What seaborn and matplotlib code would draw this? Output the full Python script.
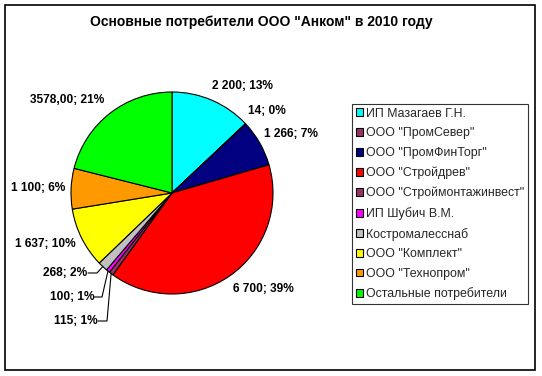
import numpy as np
import matplotlib
matplotlib.use("Agg")
import matplotlib.pyplot as plt
from matplotlib.patches import Rectangle
import seaborn as sns

sns.set_theme(style="white")
plt.rcParams['font.family'] = ['Liberation Sans', 'DejaVu Sans']

title = 'Основные потребители ООО "Анком" в 2010 году'
categories = ['ИП Мазагаев Г.Н.', 'ООО "ПромСевер"', 'ООО "ПромФинТорг"', 'ООО "Стройдрев"',
              'ООО "Строймонтажинвест"', 'ИП Шубич В.М.', 'Костромалесснаб',
              'ООО "Комплект"', 'ООО "Технопром"', 'Остальные потребители']
values = [2200, 14, 1266, 6700, 115, 100, 268, 1637, 1100, 3578]
value_text = ['2 200', '14', '1 266', '6 700', '115', '100', '268', '1 637', '1 100', '3578,00']
colors = ['#00FFFF', '#993366', '#000080', '#FF0000', '#993366', '#FF00FF',
          '#C0C0C0', '#FFFF00', '#FF9900', '#00FF00']

W, H = 542, 376
fig = plt.figure(figsize=(W / 100, H / 100), dpi=100)
fig.patch.set_facecolor('white')
ax = fig.add_axes([0, 0, 1, 1])

cx, cy, r = 172, H - 193, 101
wedges, _ = ax.pie(values, colors=colors, startangle=90, counterclock=False,
                   center=(cx, cy), radius=r, frame=True,
                   wedgeprops=dict(edgecolor='black', linewidth=0.8))
ax.set_xlim(0, W)
ax.set_ylim(0, H)
ax.set_axis_off()

total = sum(values)
labels = [f"{t}; {round(v / total * 100):.0f}%" for t, v in zip(value_text, values)]

# label centers (pixel coords from top)
label_pos = [(243, 86), (267, 111), (291, 134), (263, 289), (76, 321), (72, 297),
             (65, 273), (45, 244), (38, 188), (67, 100)]
for lab, (px, py) in zip(labels, label_pos):
    ax.text(px, H - py, lab, ha='center', va='center', fontsize=8.6, fontweight='bold',
            color='black')

# leader lines for small slices
leaders = {6: (87, 273, 97), 5: (93, 297, 102), 4: (97, 321, 107)}
for i, (lx, ly, kx) in leaders.items():
    w = wedges[i]
    ang = np.deg2rad((w.theta1 + w.theta2) / 2)
    ex, ey = cx + r * np.cos(ang), cy + r * np.sin(ang)
    ax.plot([lx + 1, kx, ex], [H - ly, H - ly, ey], color='black', lw=0.8)

ax.text(261, H - 22, title, ha='center', va='center', fontsize=10,
        fontweight='bold', color='black')

leg = ax.legend(wedges, categories, loc='upper left',
                bbox_to_anchor=(352 / W, 1 - 104 / H), bbox_transform=fig.transFigure,
                fontsize=8.9, frameon=True, fancybox=False, shadow=False,
                handlelength=0.6, handleheight=0.6, handletextpad=0.2,
                labelspacing=0.62, borderpad=0.3, borderaxespad=0)
leg.get_frame().set_edgecolor('black')
leg.get_frame().set_linewidth(0.8)
for h in leg.legend_handles:
    h.set_edgecolor('black')
    h.set_linewidth(0.8)

fig.patches.append(Rectangle((5 / W, 6 / H), 530 / W, 365 / H, transform=fig.transFigure,
                             fill=False, edgecolor='black', linewidth=1.2))

fig.savefig('out.png', dpi=100, facecolor='white')
